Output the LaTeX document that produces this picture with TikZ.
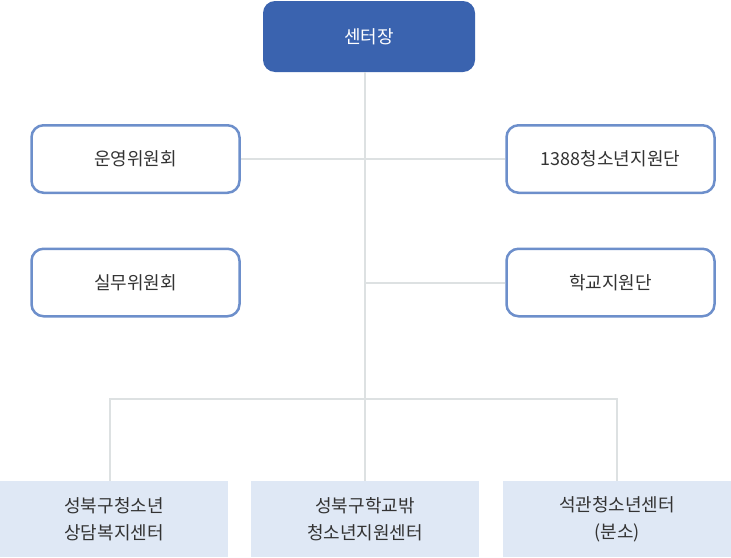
\documentclass[tikz,border=0pt]{standalone}
\usepackage{fontspec}
\setmainfont{Noto Sans CJK KR}
\usetikzlibrary{positioning}
\definecolor{headblue}{HTML}{3A63AF}
\definecolor{edgeblue}{HTML}{6D8FCB}
\definecolor{paleblue}{HTML}{DFE8F5}
\definecolor{linkgray}{HTML}{DDE1E2}
\definecolor{textgray}{HTML}{333333}

\begin{document}
\begin{tikzpicture}[x=1pt, y=-1pt,
    head/.style={fill=headblue, text=white, rounded corners=12pt, minimum width=212pt, minimum height=71pt, font=\fontsize{18}{22}\selectfont},
    board/.style={draw=edgeblue, line width=2.5pt, fill=white, text=textgray, rounded corners=12pt, minimum width=208pt, minimum height=67.5pt, font=\fontsize{18}{22}\selectfont},
    center/.style={fill=paleblue, text=textgray, align=center, minimum width=228pt, minimum height=76pt, font=\fontsize{18}{27}\selectfont},
    link/.style={draw=linkgray, line width=2pt}]
    \useasboundingbox (0,0) rectangle (731,557);
    \coordinate (J) at (365,399);
    \node[head] (chief) at (369,36.5) {센터장};
    \node[board] (steer) at (135.5,159) {운영위원회};
    \node[board] (work) at (135.5,282.5) {실무위원회};
    \node[board] (aid) at (610.5,159) {1388청소년지원단};
    \node[board] (school) at (610.5,282.5) {학교지원단};
    \node[center] (sb) at (114,519) {성북구청소년\\상담복지센터};
    \node[center] (out) at (365,519) {성북구학교밖\\청소년지원센터};
    \node[center] (sg) at (617,519) {석관청소년센터\\(분소)};
    \draw[link] (chief.south -| J) -- (J);
    \draw[link] (steer.east) -- (aid.west);
    \draw[link] (school.west) -- (school.west -| J);
    \draw[link] ([xshift=-4pt]sb.north) -- ([xshift=-4pt]sb.north |- J) -- (sg.north |- J) -- (sg.north);
    \draw[link] (J) -- (out.north);
\end{tikzpicture}
\end{document}
